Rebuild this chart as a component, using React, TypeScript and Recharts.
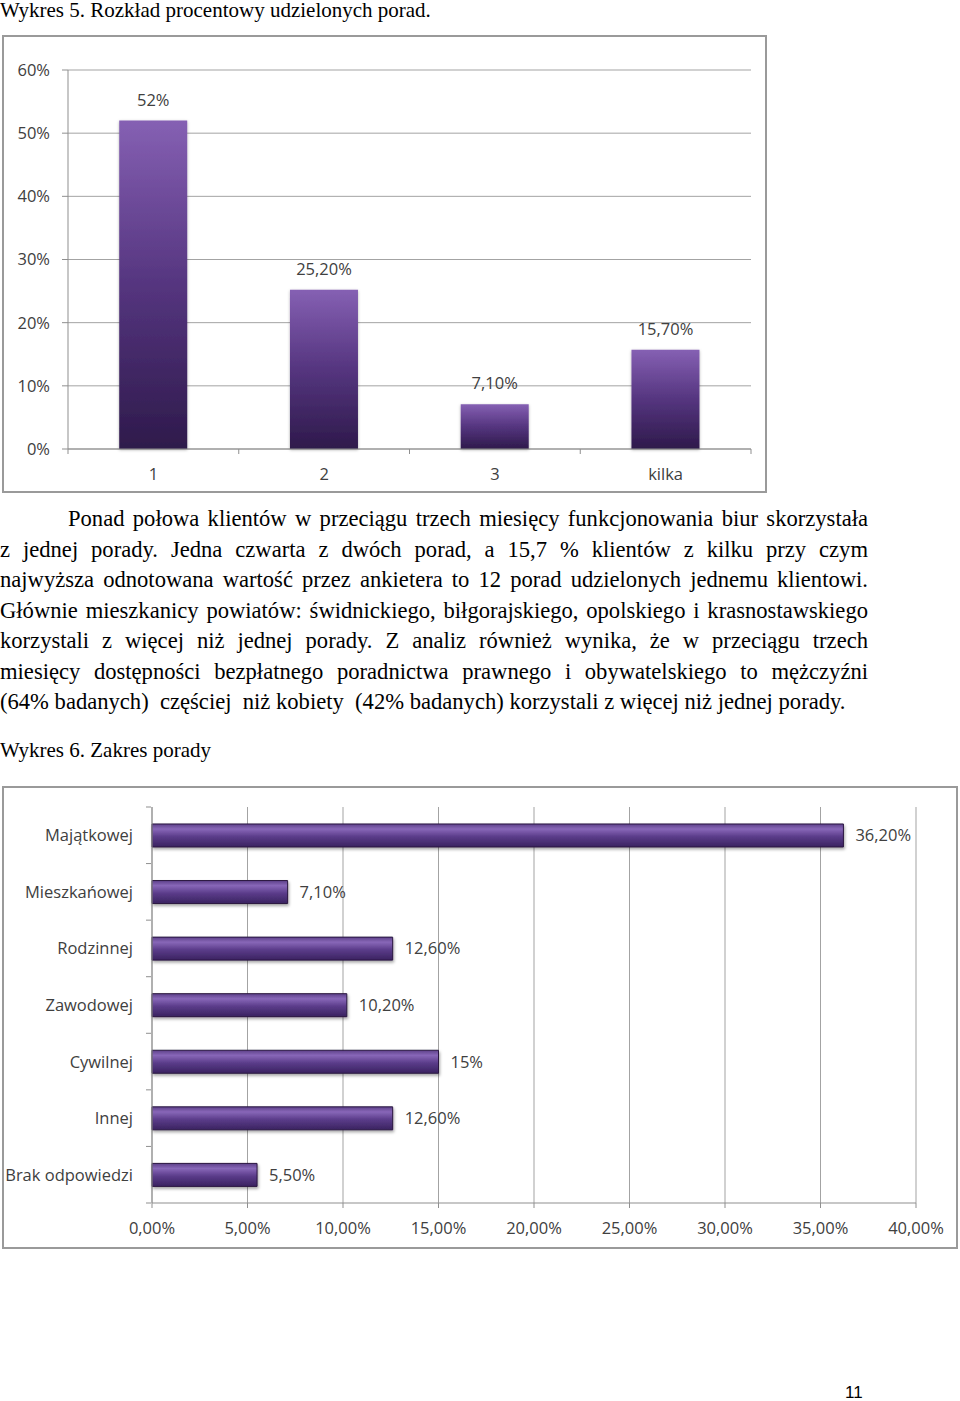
import { BarChart, Bar, XAxis, YAxis, CartesianGrid, LabelList } from 'recharts';

// Wykres 5
const countCategories = ['1', '2', '3', 'kilka'];
const countValues = [52, 25.2, 7.1, 15.7];
const countLabels = ['52%', '25,20%', '7,10%', '15,70%'];
const countTicks = [0, 10, 20, 30, 40, 50, 60];

// Wykres 6
const scopeCategories = ['Majątkowej', 'Mieszkańowej', 'Rodzinnej', 'Zawodowej', 'Cywilnej', 'Innej', 'Brak odpowiedzi'];
const scopeValues = [36.2, 7.1, 12.6, 10.2, 15, 12.6, 5.5];
const scopeLabels = ['36,20%', '7,10%', '12,60%', '10,20%', '15%', '12,60%', '5,50%'];
const scopeTicks = [0, 5, 10, 15, 20, 25, 30, 35, 40];

const countData = countCategories.map((name, i) => ({ name, value: countValues[i], label: countLabels[i] }));
const scopeData = scopeCategories.map((name, i) => ({ name, value: scopeValues[i], label: scopeLabels[i] }));

const FONT = '"Open Sans", sans-serif';
const TEXT = '#404040';
const AXIS = '#8f8f8f';
const GRID = '#a3a3a3';
const SERIF = '"Liberation Serif", "Times New Roman", serif';

// paragraph lines as broken on the page
const paragraphLines = [
  'Ponad połowa klientów w przeciągu trzech miesięcy funkcjonowania biur skorzystała',
  'z jednej porady. Jedna czwarta z dwóch porad, a 15,7 % klientów z kilku przy czym',
  'najwyższa odnotowana wartość przez ankietera to 12 porad udzielonych jednemu klientowi.',
  'Głównie mieszkanicy powiatów: świdnickiego, biłgorajskiego, opolskiego i krasnostawskiego',
  'korzystali z więcej niż jednej porady. Z analiz również wynika, że w przeciągu trzech',
  'miesięcy dostępności bezpłatnego poradnictwa prawnego i obywatelskiego to mężczyźni',
  '(64% badanych)  częściej  niż kobiety  (42% badanych) korzystali z więcej niż jednej porady.',
];

// column chart: tick marks sit on category boundaries
function ColumnTick(props: any) {
  const { x, y, payload, index } = props;
  const half = 683 / countCategories.length / 2;
  return (
    <g>
      <line x1={x - half} y1={y - 8} x2={x - half} y2={y - 3} stroke={AXIS} />
      {index === countCategories.length - 1 && (
        <line x1={x + half} y1={y - 8} x2={x + half} y2={y - 3} stroke={AXIS} />
      )}
      <text x={x} y={y + 23} textAnchor="middle" fontSize={16.5} fill={TEXT} fontFamily={FONT}>
        {payload.value}
      </text>
    </g>
  );
}

function RowTick(props: any) {
  const { x, y, payload, index } = props;
  const half = 396 / scopeCategories.length / 2;
  return (
    <g>
      <line x1={x + 13} y1={y - half} x2={x + 18} y2={y - half} stroke={AXIS} />
      {index === scopeCategories.length - 1 && (
        <line x1={x + 13} y1={y + half} x2={x + 18} y2={y + half} stroke={AXIS} />
      )}
      <text x={x} y={y} dy={6} textAnchor="end" fontSize={16.5} fill={TEXT} fontFamily={FONT}>
        {payload.value}
      </text>
    </g>
  );
}

const pct = (v: number) => `${v}%`;
const pct2 = (v: number) => `${v.toFixed(2).replace('.', ',')}%`;

export default function App() {
  return (
    <div style={{ position: 'absolute', left: 0, top: 0, width: 960, height: 1401, background: '#fff', fontFamily: SERIF, color: '#000' }}>
      <div style={{ position: 'absolute', left: 0, top: -2, fontSize: 21, whiteSpace: 'nowrap' }}>
        Wykres 5. Rozkład procentowy udzielonych porad.
      </div>

      <div style={{ position: 'absolute', left: 2, top: 35, width: 761, height: 454, border: '2px solid #9a9a9a' }} />
      <div style={{ position: 'absolute', left: 0, top: 0 }}>
        <BarChart width={770} height={500} data={countData} margin={{ top: 70, right: 19, left: 0, bottom: 21 }} barCategoryGap="30%">
          <defs>
            <linearGradient id="colGrad" x1="0" y1="0" x2="0" y2="1">
              <stop offset="0%" stopColor="#8560b3" />
              <stop offset="50%" stopColor="#55357f" />
              <stop offset="100%" stopColor="#2e1a4b" />
            </linearGradient>
            <filter id="colShadow" x="-20%" y="-10%" width="140%" height="120%">
              <feDropShadow dx="0" dy="1" stdDeviation="1.5" floodColor="#000" floodOpacity="0.3" />
            </filter>
          </defs>
          <CartesianGrid vertical={false} stroke={GRID} />
          <XAxis dataKey="name" height={30} axisLine={{ stroke: AXIS }} tickLine={false} tick={<ColumnTick />} interval={0} />
          <YAxis
            width={68}
            domain={[0, 60]}
            ticks={countTicks}
            tickFormatter={pct}
            axisLine={{ stroke: AXIS }}
            tickLine={{ stroke: AXIS }}
            tickSize={6}
            tickMargin={12}
            tick={{ fontSize: 16.5, fill: TEXT, fontFamily: FONT }}
          />
          <Bar dataKey="value" fill="url(#colGrad)" filter="url(#colShadow)" isAnimationActive={false}>
            <LabelList dataKey="label" position="top" offset={15} fontSize={16.5} fill={TEXT} fontFamily={FONT} />
          </Bar>
        </BarChart>
      </div>

      <div style={{ position: 'absolute', left: 0, top: 504, width: 868, fontSize: 22.6, lineHeight: '30.5px' }}>
        {paragraphLines.map((line, i) => (
          <div
            key={i}
            style={{
              whiteSpace: 'pre',
              textAlign: 'justify',
              textAlignLast: i < paragraphLines.length - 1 ? 'justify' : 'left',
              textIndent: i === 0 ? 68 : 0,
            }}
          >
            {line}
          </div>
        ))}
      </div>

      <div style={{ position: 'absolute', left: 0, top: 738, fontSize: 21, whiteSpace: 'nowrap' }}>Wykres 6. Zakres porady</div>

      <div style={{ position: 'absolute', left: 2, top: 786, width: 952, height: 459, border: '2px solid #9a9a9a' }} />
      <div style={{ position: 'absolute', left: 0, top: 780 }}>
        <BarChart
          width={960}
          height={470}
          data={scopeData}
          layout="vertical"
          margin={{ top: 27, right: 44, left: 0, bottom: 17 }}
          barCategoryGap="30%"
        >
          <defs>
            <linearGradient id="rowGrad" x1="0" y1="0" x2="0" y2="1">
              <stop offset="0%" stopColor="#5d4189" />
              <stop offset="22%" stopColor="#8867b8" />
              <stop offset="55%" stopColor="#5b3c8a" />
              <stop offset="100%" stopColor="#3a2360" />
            </linearGradient>
            <filter id="rowShadow" x="-5%" y="-30%" width="110%" height="180%">
              <feDropShadow dx="1" dy="2" stdDeviation="1.5" floodColor="#000" floodOpacity="0.35" />
            </filter>
          </defs>
          <CartesianGrid horizontal={false} stroke={GRID} />
          <XAxis
            type="number"
            domain={[0, 40]}
            ticks={scopeTicks}
            tickFormatter={pct2}
            height={30}
            axisLine={{ stroke: AXIS }}
            tickLine={{ stroke: AXIS }}
            tickSize={5}
            tickMargin={14}
            tick={{ fontSize: 16.5, fill: TEXT, fontFamily: FONT }}
          />
          <YAxis type="category" dataKey="name" width={152} axisLine={{ stroke: AXIS }} tickLine={false} tick={<RowTick />} interval={0} tickMargin={13} />
          <Bar dataKey="value" fill="url(#rowGrad)" stroke="#2a1840" strokeWidth={1} filter="url(#rowShadow)" isAnimationActive={false}>
            <LabelList dataKey="label" position="right" offset={12} fontSize={16.5} fill={TEXT} fontFamily={FONT} />
          </Bar>
        </BarChart>
      </div>

      <div style={{ position: 'absolute', left: 845, top: 1383, fontSize: 17, fontFamily: '"Liberation Sans", Arial, sans-serif' }}>11</div>
    </div>
  );
}
